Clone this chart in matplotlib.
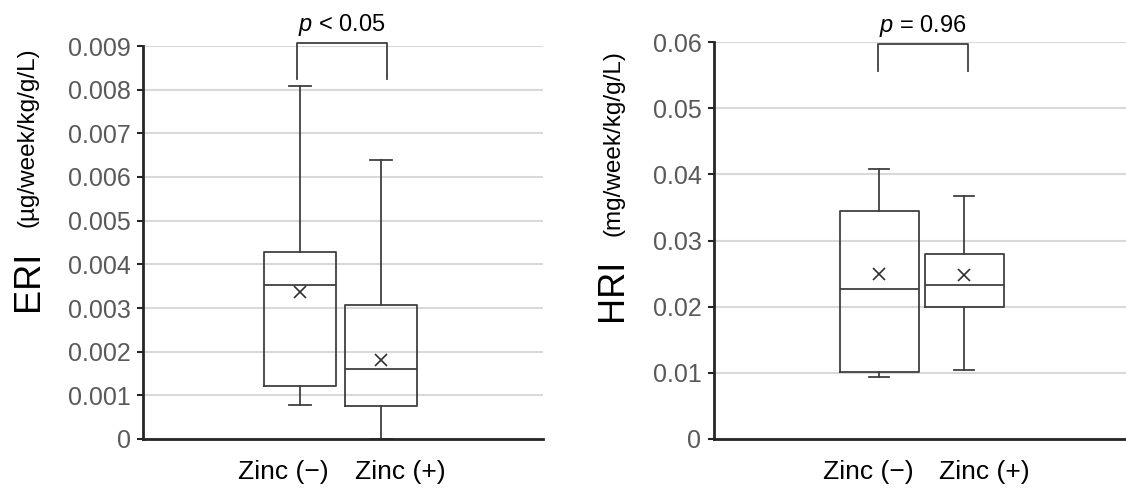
import matplotlib
matplotlib.use("Agg")
import matplotlib.pyplot as plt

plt.rcParams['font.family'] = ['Liberation Sans', 'DejaVu Sans']
plt.rcParams['mathtext.fontset'] = 'custom'
plt.rcParams['mathtext.it'] = 'Liberation Sans:italic'
plt.rcParams['mathtext.rm'] = 'Liberation Sans'

# --- data
groups = ['Zinc (\u2212)', 'Zinc (+)']

eri_low = [0.00079, 0.0]
eri_q1 = [0.00121, 0.00075]
eri_med = [0.00352, 0.00161]
eri_q3 = [0.00428, 0.00306]
eri_high = [0.00808, 0.00639]
eri_mean = [0.00337, 0.00182]

hri_low = [0.0094, 0.0104]
hri_q1 = [0.0102, 0.0200]
hri_med = [0.0226, 0.0233]
hri_q3 = [0.0345, 0.0279]
hri_high = [0.0408, 0.0367]
hri_mean = [0.0250, 0.0248]

eri_ticks = [0, 0.001, 0.002, 0.003, 0.004, 0.005, 0.006, 0.007, 0.008, 0.009]
eri_ticklabels = ['0', '0.001', '0.002', '0.003', '0.004', '0.005', '0.006', '0.007', '0.008', '0.009']
hri_ticks = [0, 0.01, 0.02, 0.03, 0.04, 0.05, 0.06]
hri_ticklabels = ['0', '0.01', '0.02', '0.03', '0.04', '0.05', '0.06']

eri_p = '$p$ < 0.05'
hri_p = '$p$ = 0.96'

W, H = 1126, 488
fig = plt.figure(figsize=(W / 100, H / 100), dpi=100)

box_col = '#404040'
grid_col = '#d9d9d9'
tick_col = '#595959'


def make_stats(low, q1, med, q3, high, mean):
    return [dict(whislo=low[i], q1=q1[i], med=med[i], q3=q3[i], whishi=high[i],
                 mean=mean[i], fliers=[]) for i in range(len(low))]


def draw_panel(rect, stats, xlim, ylim, ticks, ticklabels, width, capw,
               bracket, p_text, label_x):
    ax = fig.add_axes(rect)
    ax.set_xlim(*xlim)
    ax.set_ylim(*ylim)
    ax.set_yticks(ticks)
    ax.set_yticklabels(ticklabels)
    ax.yaxis.grid(True, color=grid_col, lw=1.5)
    ax.set_axisbelow(True)
    lp = dict(color=box_col, lw=1.3)
    ax.bxp(stats, positions=[1, 2], widths=width, capwidths=capw,
           showmeans=True, showfliers=False,
           boxprops=lp, whiskerprops=lp, capprops=lp,
           medianprops=lp,
           meanprops=dict(marker='x', markersize=8, markeredgecolor='#303030',
                          markeredgewidth=1.2, linestyle='none'))
    for s in ['top', 'right']:
        ax.spines[s].set_visible(False)
    for s in ['left', 'bottom']:
        ax.spines[s].set_color('#262626')
        ax.spines[s].set_linewidth(2)
    ax.set_xticks([])
    ax.tick_params(axis='y', length=4, width=1.5, color='#262626',
                   labelsize=18, labelcolor=tick_col, pad=5)
    # significance bracket
    x0, x1, ytop, ybot = bracket
    ax.plot([x0, x0, x1, x1], [ybot, ytop, ytop, ybot], color=box_col,
            lw=1.3, clip_on=False)
    ax.text((x0 + x1) / 2, ytop + (ylim[1] - ylim[0]) * 0.012, p_text,
            ha='center', va='bottom', fontsize=17, color='black', clip_on=False)
    for g, lx in zip(groups, label_x):
        fig.text(lx / W, 1 - 472 / H, g, ha='center', va='center',
                 fontsize=19, color='black')
    return ax


ax1 = draw_panel([143 / W, 1 - 439 / H, 400 / W, 393 / H],
                 make_stats(eri_low, eri_q1, eri_med, eri_q3, eri_high, eri_mean),
                 (-0.938, 4.0), (0, 0.009), eri_ticks, eri_ticklabels,
                 0.9, 0.27, (0.96, 2.07, 0.00907, 0.00824), eri_p, [283, 400])

ax2 = draw_panel([714 / W, 1 - 439 / H, 412 / W, 397 / H],
                 make_stats(hri_low, hri_q1, hri_med, hri_q3, hri_high, hri_mean),
                 (-0.94, 3.90), (0, 0.06), hri_ticks, hri_ticklabels,
                 0.93, 0.24, (0.99, 2.04, 0.0597, 0.0556), hri_p, [868, 984])

# y axis titles
fig.text(38 / W, 1 - 281 / H, 'ERI', rotation=90, rotation_mode='anchor',
         ha='center', va='baseline', fontsize=26, color='black')
fig.text(34 / W, 1 - 137 / H, '(\u00b5g/week/kg/g/L)', rotation=90,
         rotation_mode='anchor', ha='center', va='baseline', fontsize=17.5,
         color='black')
fig.text(622 / W, 1 - 290 / H, 'HRI', rotation=90, rotation_mode='anchor',
         ha='center', va='baseline', fontsize=26, color='black')
fig.text(619 / W, 1 - 143 / H, '(mg/week/kg/g/L)', rotation=90,
         rotation_mode='anchor', ha='center', va='baseline', fontsize=17.5,
         color='black')

fig.savefig('out.png', dpi=100)
